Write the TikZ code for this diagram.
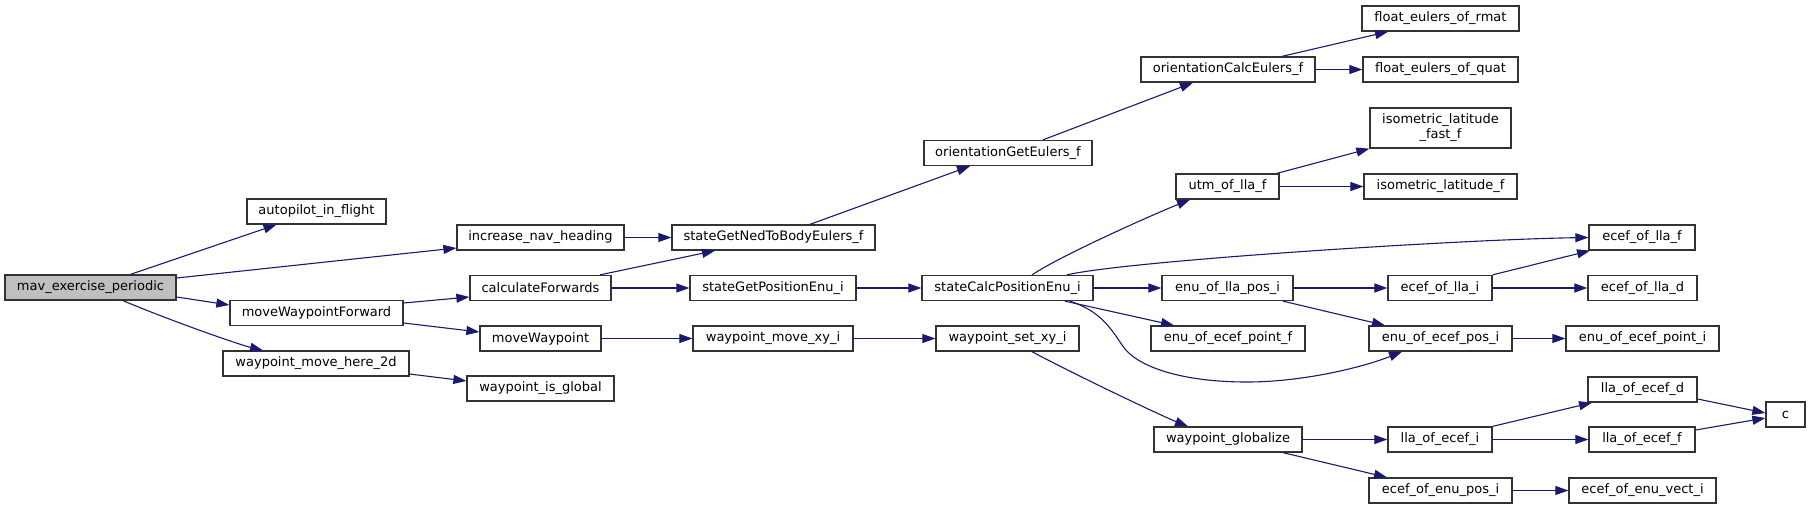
\documentclass[tikz,border=0pt]{standalone}
\usepackage{fontspec}
\setmainfont{DejaVu Sans}
\usetikzlibrary{arrows.meta}
\definecolor{edgec}{HTML}{191970}
\definecolor{nodeb}{HTML}{333333}
\definecolor{rootf}{HTML}{BFBFBF}
\begin{document}
\begin{tikzpicture}[x=1pt,y=-1pt,
  fn/.style={draw=nodeb, line width=1.3pt, fill=white, minimum height=25pt, inner sep=0pt, font=\fontsize{13}{15}\selectfont, text=black, align=center},
  rootfn/.style={fn, fill=rootf},
  call/.style={draw=edgec, line width=1.1pt, -{Triangle[length=13pt,width=9pt]}}
]
\useasboundingbox[fill=white] (0,0) rectangle (1811,509);

% rank 0
\node[rootfn, minimum width=171pt] (mav) at (90.5,287.5) {mav\_exercise\_periodic};
% rank 1
\node[fn, minimum width=139pt] (ap) at (316.5,211.5) {autopilot\_in\_flight};
\node[fn, minimum width=173pt] (mwf) at (316.5,313) {moveWaypointForward};
\node[fn, minimum width=186pt] (wmh) at (316,363.5) {waypoint\_move\_here\_2d};
% rank 2
\node[fn, minimum width=167pt] (inh) at (540.5,237.5) {increase\_nav\_heading};
\node[fn, minimum width=141pt] (cf) at (540.5,288) {calculateForwards};
\node[fn, minimum width=121pt] (mw) at (540.5,338.5) {moveWaypoint};
\node[fn, minimum width=147pt] (wig) at (540.5,388.5) {waypoint\_is\_global};
% rank 3
\node[fn, minimum width=203pt] (sgn) at (773.5,237.5) {stateGetNedToBodyEulers\_f};
\node[fn, minimum width=166pt] (sgp) at (773,288) {stateGetPositionEnu\_i};
\node[fn, minimum width=160pt] (wmxy) at (773,338.5) {waypoint\_move\_xy\_i};
% rank 4
\node[fn, minimum width=168pt] (oge) at (1008,153) {orientationGetEulers\_f};
\node[fn, minimum width=171pt] (scp) at (1007.5,288) {stateCalcPositionEnu\_i};
\node[fn, minimum width=143pt] (wsxy) at (1007.5,338.5) {waypoint\_set\_xy\_i};
% rank 5
\node[fn, minimum width=174pt] (oce) at (1228,69.5) {orientationCalcEulers\_f};
\node[fn, minimum width=103pt] (utm) at (1227.5,186.5) {utm\_of\_lla\_f};
\node[fn, minimum width=131pt] (eollp) at (1227.5,288) {enu\_of\_lla\_pos\_i};
\node[fn, minimum width=154pt] (eoepf) at (1228,338.5) {enu\_of\_ecef\_point\_f};
\node[fn, minimum width=148pt] (wg) at (1228,439.5) {waypoint\_globalize};
% rank 6
\node[fn, minimum width=157pt] (rmat) at (1440.5,18.5) {float\_eulers\_of\_rmat};
\node[fn, minimum width=155pt] (quat) at (1440.5,69.5) {float\_eulers\_of\_quat};
\node[fn, minimum width=141pt, minimum height=40pt] (ilff) at (1440.5,128) {isometric\_latitude\\\_fast\_f};
\node[fn, minimum width=153pt] (ilf) at (1440.5,186.5) {isometric\_latitude\_f};
\node[fn, minimum width=104pt] (eolli) at (1440,288) {ecef\_of\_lla\_i};
\node[fn, minimum width=143pt] (eoep) at (1440.5,338.5) {enu\_of\_ecef\_pos\_i};
\node[fn, minimum width=104pt] (lloei) at (1440,439.5) {lla\_of\_ecef\_i};
\node[fn, minimum width=143pt] (eoenp) at (1440.5,490.5) {ecef\_of\_enu\_pos\_i};
% rank 7
\node[fn, minimum width=106pt] (eollf) at (1642,237.5) {ecef\_of\_lla\_f};
\node[fn, minimum width=109pt] (eolld) at (1642.5,288) {ecef\_of\_lla\_d};
\node[fn, minimum width=153pt] (eoepi) at (1642.5,338.5) {enu\_of\_ecef\_point\_i};
\node[fn, minimum width=109pt] (lload) at (1642.5,389.5) {lla\_of\_ecef\_d};
\node[fn, minimum width=106pt] (lloef) at (1642,439.5) {lla\_of\_ecef\_f};
\node[fn, minimum width=147pt] (eoev) at (1642.5,490.5) {ecef\_of\_enu\_vect\_i};
% rank 8
\node[fn, minimum width=39pt] (c) at (1785.5,414.5) {c};

% bend points
\coordinate (b1) at (1122,345);
\coordinate (b2) at (1247,382);

% edges
\draw[call] ([xshift=40pt]mav.north) -- ([xshift=-40pt]ap.south);
\draw[call] ([yshift=9.5pt]mav.east) -- ([yshift=-10.5pt]inh.west);
\draw[call] ([yshift=-9.5pt]mav.east) -- ([yshift=8pt]mwf.west);
\draw[call] ([xshift=32.5pt]mav.south) .. controls +(45,19) and +(-25,-6) .. ([xshift=-53pt]wmh.north);
\draw[call] (inh.east) -- (sgn.west);
\draw[call] ([yshift=10pt]mwf.east) -- ([yshift=-9pt]cf.west);
\draw[call] ([yshift=-10pt]mwf.east) -- ([yshift=6.5pt]mw.west);
\draw[call] ([yshift=-10.5pt]wmh.east) -- ([yshift=7.5pt]wig.west);
\draw[call] ([xshift=59.5pt]cf.north) -- ([xshift=-58.5pt]sgn.south);
\draw[call] (cf.east) -- (sgp.west);
\draw[call] (mw.east) -- (wmxy.west);
\draw[call] ([xshift=36.5pt]sgn.north) -- ([xshift=-38pt]oge.south);
\draw[call] ([xshift=35pt]oge.north) -- ([xshift=-35pt]oce.south);
\draw[call] ([xshift=54pt]oce.north) -- ([xshift=-52.5pt]rmat.south);
\draw[call] (oce.east) -- (quat.west);
\draw[call] (sgp.east) -- (scp.west);
\draw[call] (wmxy.east) -- (wsxy.west);
\draw[call] ([xshift=24.5pt]scp.north) .. controls +(30,-20) and +(-35,14) .. ([xshift=-37.5pt]utm.south);
\draw[call] ([xshift=59.5pt]scp.north) .. controls +(60,-14) and +(-130,2) .. (eollf.west);
\draw[call] (scp.east) -- (eollp.west);
\draw[call] ([xshift=57.5pt]scp.south) -- ([xshift=-54pt]eoepf.north);
\draw[call] ([xshift=62.5pt]scp.south) .. controls +(30,10) and +(-12,-18) .. (b1) .. controls +(14,22) and +(-65,0) .. (b2) .. controls +(55,0) and +(-40,16) .. ([xshift=-38.5pt]eoep.south);
\draw[call] ([xshift=49.5pt]utm.north) -- (ilff.south west);
\draw[call] (utm.east) -- (ilf.west);
\draw[call] (eollp.east) -- (eolli.west);
\draw[call] ([xshift=55.5pt]eollp.south) -- ([xshift=-55.5pt]eoep.north);
\draw[call] (eolli.north east) -- ([xshift=-52pt]eollf.south);
\draw[call] (eolli.east) -- (eolld.west);
\draw[call] (eoep.east) -- (eoepi.west);
\draw[call] ([xshift=24.5pt]wsxy.south) .. controls +(35,19) and +(-30,-12) .. ([xshift=-40pt]wg.north);
\draw[call] (wg.east) -- (lloei.west);
\draw[call] ([xshift=55pt]wg.south) -- ([xshift=-53.5pt]eoenp.north);
\draw[call] (lloei.north east) -- ([xshift=-50.5pt]lload.south);
\draw[call] (lloei.east) -- (lloef.west);
\draw[call] ([yshift=-9.5pt]lload.east) -- ([yshift=1.5pt]c.west);
\draw[call] ([yshift=9.5pt]lloef.east) -- ([yshift=-3.5pt]c.west);
\draw[call] (eoenp.east) -- (eoev.west);
\end{tikzpicture}
\end{document}
